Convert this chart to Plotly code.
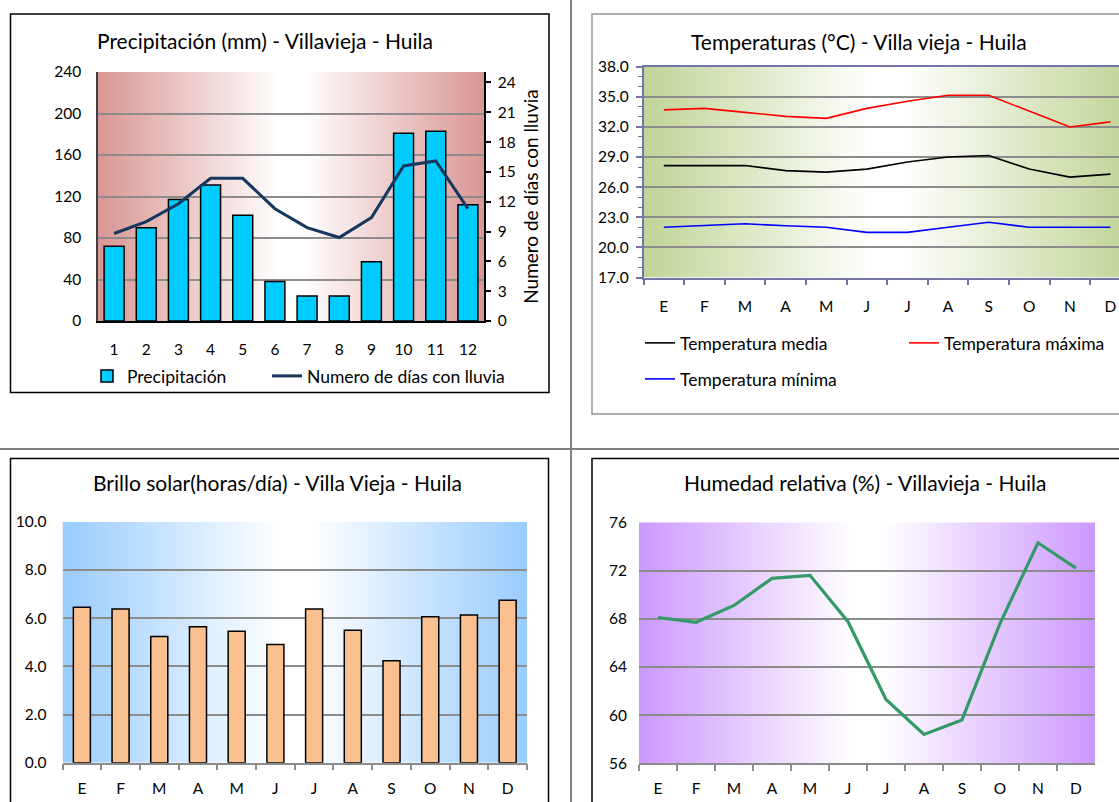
import base64
import plotly.graph_objects as go

W, H = 1119, 802

# ---------------- data ----------------
num_meses = ["1", "2", "3", "4", "5", "6", "7", "8", "9", "10", "11", "12"]
precipitacion = [72, 90, 117, 131, 102, 38, 24, 24, 57, 181, 183, 112]
dias_lluvia = [8.8, 10.0, 11.8, 14.35, 14.35, 11.3, 9.4, 8.4, 10.4, 15.6, 16.1, 11.3]

meses_id = ["Ene", "Feb", "Mar", "Abr", "May", "Jun", "Jul", "Ago", "Sep", "Oct", "Nov", "Dic"]
meses_letra = ["E", "F", "M", "A", "M", "J", "J", "A", "S", "O", "N", "D"]

temp_media = [28.15, 28.15, 28.15, 27.65, 27.5, 27.8, 28.5, 29.0, 29.15, 27.8, 27.0, 27.3]
temp_maxima = [33.7, 33.85, 33.45, 33.05, 32.85, 33.85, 34.55, 35.15, 35.15, 33.55, 32.0, 32.5]
temp_minima = [22.0, 22.15, 22.35, 22.15, 22.0, 21.5, 21.5, 22.0, 22.5, 22.0, 22.0, 22.0]

brillo_solar = [6.45, 6.38, 5.24, 5.64, 5.45, 4.9, 6.38, 5.5, 4.23, 6.06, 6.13, 6.74]

humedad = [68.1, 67.7, 69.1, 71.35, 71.6, 67.75, 61.3, 58.4, 59.6, 67.6, 74.3, 72.2]

FONT = "Lato"


def px(x):
    return x / W


def py(y):
    return 1 - y / H


def grad_src(edge):
    svg = (
        "<svg xmlns='http://www.w3.org/2000/svg' width='400' height='100' "
        "viewBox='0 0 400 100' preserveAspectRatio='none'>"
        "<defs><linearGradient id='g' x1='0' y1='0' x2='1' y2='0'>"
        f"<stop offset='0' stop-color='{edge}'/>"
        "<stop offset='0.47' stop-color='#ffffff'/>"
        "<stop offset='0.53' stop-color='#ffffff'/>"
        f"<stop offset='1' stop-color='{edge}'/>"
        "</linearGradient></defs>"
        "<rect x='0' y='0' width='400' height='100' fill='url(#g)'/></svg>"
    )
    return "data:image/svg+xml;base64," + base64.b64encode(svg.encode()).decode()


fig = go.Figure()

# ---------- Panel 1: precipitation ----------
fig.add_trace(go.Bar(
    x=num_meses, y=precipitacion, name="Precipitación",
    marker=dict(color="#00ccff", line=dict(color="#000000", width=1.5)),
    width=0.62, xaxis="x", yaxis="y", legend="legend",
))
fig.add_trace(go.Scatter(
    x=num_meses, y=dias_lluvia, name="Numero de días con lluvia", mode="lines",
    line=dict(color="#17375e", width=3), xaxis="x", yaxis="y2", legend="legend2",
))

# ---------- Panel 2: temperatures ----------
fig.add_trace(go.Scatter(
    x=meses_id, y=temp_media, name="Temperatura media", mode="lines",
    line=dict(color="#000000", width=1.6), xaxis="x2", yaxis="y3", legend="legend3",
))
fig.add_trace(go.Scatter(
    x=meses_id, y=temp_maxima, name="Temperatura máxima", mode="lines",
    line=dict(color="#ff0000", width=1.6), xaxis="x2", yaxis="y3", legend="legend4",
))
fig.add_trace(go.Scatter(
    x=meses_id, y=temp_minima, name="Temperatura mínima", mode="lines",
    line=dict(color="#0000ff", width=1.6), xaxis="x2", yaxis="y3", legend="legend5",
))

# ---------- Panel 3: sunshine ----------
fig.add_trace(go.Bar(
    x=meses_id, y=brillo_solar, name="Brillo solar",
    marker=dict(color="#fac090", line=dict(color="#000000", width=1.5)),
    width=0.44, xaxis="x3", yaxis="y4", showlegend=False,
))

# ---------- Panel 4: humidity ----------
fig.add_trace(go.Scatter(
    x=meses_id, y=humedad, name="Humedad relativa", mode="lines",
    line=dict(color="#339966", width=3.2), xaxis="x4", yaxis="y5", showlegend=False,
))

tickfont = dict(family=FONT, size=15.5, color="#000000")
GRID = "#8c8c8c"
BLUEGRAY = "#7474a8"

# visible category range of the cut-off temperature panel
T_XMAX = 11.21

layout_axes = dict(
    # panel 1
    xaxis=dict(domain=[px(98), px(484)], anchor="y", type="category",
               showline=True, linecolor="#000000", linewidth=1.5,
               ticks="", tickfont=tickfont, ticklabelstandoff=14,
               showgrid=False, range=[-0.5, 11.5], automargin=False),
    yaxis=dict(domain=[py(321), py(72)], anchor="x", range=[0, 240], dtick=40,
               showline=True, linecolor="#404040", linewidth=1.5,
               gridcolor=GRID, gridwidth=1.5, tickfont=tickfont,
               ticks="", ticklabelstandoff=12, zeroline=False, automargin=False),
    yaxis2=dict(overlaying="y", anchor="x", side="right", range=[0, 25.05],
                tickvals=[0, 3, 6, 9, 12, 15, 18, 21, 24],
                showline=True, linecolor="#000000", linewidth=1.5,
                ticks="outside", ticklen=5, tickcolor="#000000", tickwidth=1.5,
                showgrid=False, zeroline=False, tickfont=tickfont, automargin=False,
                ticklabelstandoff=4,
                title=dict(text="Numero de días con lluvia",
                           font=dict(family=FONT, size=19, color="#000000"),
                           standoff=10)),
    # panel 2
    xaxis2=dict(domain=[px(643.5), 1.0], anchor="y3", type="category",
                range=[-0.5, T_XMAX],
                tickmode="array", tickvals=meses_id, ticktext=meses_letra,
                tickson="boundaries", ticks="outside", ticklen=6,
                tickcolor=BLUEGRAY, tickwidth=1.5,
                showline=True, linecolor=BLUEGRAY, linewidth=1.5, mirror=True,
                showgrid=False, tickfont=tickfont, ticklabelstandoff=14,
                automargin=False),
    yaxis3=dict(domain=[py(277.5), py(66.7)], anchor="x2", range=[17, 38],
                tick0=17, dtick=3, tickformat=".1f",
                showline=True, linecolor=BLUEGRAY, linewidth=1.5,
                ticks="outside", ticklen=6, tickcolor=BLUEGRAY, tickwidth=1.5,
                minor=dict(dtick=1, ticks="outside", ticklen=4,
                           tickcolor=BLUEGRAY, tickwidth=1.2, showgrid=False),
                gridcolor=GRID, gridwidth=1.5, zeroline=False, tickfont=tickfont,
                ticklabelstandoff=4, automargin=False),
    # panel 3
    xaxis3=dict(domain=[px(62.5), px(527)], anchor="y4", type="category",
                range=[-0.5, 11.5],
                tickmode="array", tickvals=meses_id, ticktext=meses_letra,
                tickson="boundaries", ticks="outside", ticklen=6,
                tickcolor=GRID, tickwidth=1.5,
                showline=True, linecolor=GRID, linewidth=1.5,
                showgrid=False, tickfont=tickfont, ticklabelstandoff=11,
                automargin=False),
    yaxis4=dict(domain=[py(762.7), py(521.7)], anchor="x3", range=[0, 10],
                dtick=2, tickformat=".1f",
                showline=False, ticks="", gridcolor=GRID, gridwidth=1.5,
                zeroline=False, tickfont=tickfont, ticklabelstandoff=15,
                automargin=False),
    # panel 4
    xaxis4=dict(domain=[px(639), px(1095)], anchor="y5", type="category",
                range=[-0.5, 11.5],
                tickmode="array", tickvals=meses_id, ticktext=meses_letra,
                tickson="boundaries", ticks="outside", ticklen=6,
                tickcolor=GRID, tickwidth=1.5,
                showline=True, linecolor=GRID, linewidth=1.5,
                showgrid=False, tickfont=tickfont, ticklabelstandoff=10,
                automargin=False),
    yaxis5=dict(domain=[py(763.3), py(522.3)], anchor="x4", range=[56, 76],
                dtick=4, showline=False, ticks="",
                gridcolor=GRID, gridwidth=1.5, zeroline=False,
                tickfont=tickfont, ticklabelstandoff=11, automargin=False),
)

# gradient backgrounds of the plot areas
images = [
    dict(source=grad_src("#d99694"), xref="x domain", yref="y domain",
         x=0, y=1, sizex=1, sizey=1, xanchor="left", yanchor="top",
         sizing="stretch", layer="below"),
    dict(source=grad_src("#c0d497"), xref="x2 domain", yref="y3 domain",
         x=0, y=1, sizex=12 / (T_XMAX + 0.5), sizey=1, xanchor="left", yanchor="top",
         sizing="stretch", layer="below"),
    dict(source=grad_src("#99ccff"), xref="x3 domain", yref="y4 domain",
         x=0, y=1, sizex=1, sizey=1, xanchor="left", yanchor="top",
         sizing="stretch", layer="below"),
    dict(source=grad_src("#cc99ff"), xref="x4 domain", yref="y5 domain",
         x=0, y=1, sizex=1, sizey=1, xanchor="left", yanchor="top",
         sizing="stretch", layer="below"),
]

# panel frames and dividers
shapes = [
    dict(type="line", xref="paper", yref="paper", x0=px(571), x1=px(571), y0=0, y1=1,
         line=dict(color="#808080", width=2)),
    dict(type="line", xref="paper", yref="paper", x0=0, x1=1, y0=py(449), y1=py(449),
         line=dict(color="#808080", width=2)),
    dict(type="rect", xref="paper", yref="paper", x0=px(10.5), x1=px(549), y0=py(392.5), y1=py(14),
         line=dict(color="#000000", width=1.5)),
    dict(type="rect", xref="paper", yref="paper", x0=px(592), x1=px(1135), y0=py(414), y1=py(14),
         line=dict(color="#969696", width=1.5)),
    dict(type="rect", xref="paper", yref="paper", x0=px(10.5), x1=px(548.5), y0=py(815), y1=py(458.5),
         line=dict(color="#000000", width=1.5)),
    dict(type="rect", xref="paper", yref="paper", x0=px(592), x1=px(1135), y0=py(815), y1=py(458.5),
         line=dict(color="#000000", width=1.5)),
]

titlefont = dict(family=FONT, size=21, color="#000000")
annotations = [
    dict(text="Precipitación (mm) - Villavieja - Huila", x=px(265), y=py(40),
         xref="paper", yref="paper", showarrow=False, font=titlefont,
         xanchor="center", yanchor="middle"),
    dict(text="Temperaturas (°C) - Villa vieja - Huila", x=px(859), y=py(42),
         xref="paper", yref="paper", showarrow=False, font=titlefont,
         xanchor="center", yanchor="middle"),
    dict(text="Brillo solar(horas/día) - Villa Vieja - Huila", x=px(277), y=py(483),
         xref="paper", yref="paper", showarrow=False, font=titlefont,
         xanchor="center", yanchor="middle"),
    dict(text="Humedad relativa (%) - Villavieja - Huila", x=px(865), y=py(482),
         xref="paper", yref="paper", showarrow=False, font=titlefont,
         xanchor="center", yanchor="middle"),
]

legfont = dict(family=FONT, size=17.5, color="#000000")


def leg(text_x, y):
    return dict(x=px(text_x - 40), y=py(y), xanchor="left", yanchor="middle",
                bgcolor="rgba(0,0,0,0)", borderwidth=0, font=legfont,
                orientation="v", tracegroupgap=0, itemwidth=30)


fig.update_layout(
    width=W, height=H, autosize=False,
    margin=dict(l=0, r=0, t=0, b=0, autoexpand=False),
    paper_bgcolor="#ffffff", plot_bgcolor="#ffffff",
    font=dict(family=FONT, color="#000000"),
    showlegend=True,
    legend=leg(127, 376),
    legend2=leg(307, 376),
    legend3=leg(680, 343),
    legend4=leg(944, 343),
    legend5=leg(680, 379),
    images=images, shapes=shapes, annotations=annotations,
    bargap=0.3,
    **layout_axes,
)

fig.write_html("out.html", config={"displayModeBar": False},
               post_script="document.body.style.margin='0';")
